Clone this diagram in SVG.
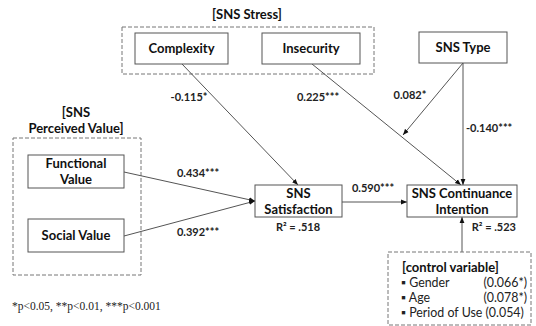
<svg xmlns="http://www.w3.org/2000/svg" width="536" height="326" viewBox="0 0 536 326">
<style>
.node{fill:#fff;stroke:#555;stroke-width:1}
.grp{fill:none;stroke:#777;stroke-width:1;stroke-dasharray:4 2}
.t{font-family:Lato,"Noto Sans",sans-serif;font-weight:bold;font-size:13px;fill:#111;text-anchor:middle}
.c{font-family:Lato,"Noto Sans",sans-serif;font-weight:bold;font-size:11px;fill:#222;text-anchor:middle}
.r{font-family:Lato,"Noto Sans",sans-serif;font-size:12.4px;fill:#222}
.fn{font-family:"Liberation Serif",serif;font-size:11.5px;fill:#222}
.ln{stroke:#555;stroke-width:1;fill:none;marker-end:url(#ah)}
</style>
<defs>
<marker id="ah" viewBox="0 0 10 10" refX="10" refY="5" markerWidth="6" markerHeight="6" markerUnits="userSpaceOnUse" orient="auto">
<path d="M0,1 L10,5 L0,9 z" fill="#111"/>
</marker>
</defs>
<rect width="536" height="326" fill="#fff"/>

<g id="sns-stress">
<text class="t" x="247" y="19">[SNS Stress]</text>
<rect class="grp" x="122" y="27" width="252" height="47"/>
</g>
<g id="perceived-value">
<text class="t" x="76" y="117">[SNS</text>
<text class="t" x="76" y="133">Perceived Value]</text>
<rect class="grp" x="13" y="138" width="128" height="137"/>
</g>

<g id="connectors">
<line class="ln" x1="182" y1="64" x2="298" y2="185"/>
<line class="ln" x1="312" y1="64" x2="461" y2="185"/>
<line class="ln" x1="463" y1="63" x2="403" y2="135"/>
<line class="ln" x1="463" y1="63" x2="463" y2="185"/>
<line class="ln" x1="124" y1="172" x2="255" y2="201"/>
<line class="ln" x1="124" y1="236" x2="255" y2="201"/>
<line class="ln" x1="342" y1="202" x2="407" y2="202"/>
<line class="ln" x1="462" y1="252" x2="462" y2="217"/>
<text class="c" x="189" y="101">-0.115*</text>
<text class="c" x="318" y="101">0.225***</text>
<text class="c" x="410" y="99">0.082*</text>
<text class="c" x="466" y="132" style="text-anchor:start">-0.140***</text>
<text class="c" x="198" y="177">0.434***</text>
<text class="c" x="198" y="236">0.392***</text>
<text class="c" x="373" y="192">0.590***</text>
</g>

<g id="complexity">
<rect class="node" x="135" y="33" width="93" height="31"/>
<text class="t" x="181.5" y="53">Complexity</text>
</g>
<g id="insecurity">
<rect class="node" x="262" y="33" width="98" height="31"/>
<text class="t" x="311" y="53">Insecurity</text>
</g>
<g id="sns-type">
<rect class="node" x="419" y="32" width="88" height="31"/>
<text class="t" x="463" y="52">SNS Type</text>
</g>
<g id="functional-value">
<rect class="node" x="28" y="155" width="96" height="33"/>
<text class="t" x="76" y="168">Functional</text>
<text class="t" x="76" y="184">Value</text>
</g>
<g id="social-value">
<rect class="node" x="28" y="219" width="96" height="33"/>
<text class="t" x="76" y="240">Social Value</text>
</g>
<g id="sns-satisfaction">
<rect class="node" x="255" y="185" width="87" height="32"/>
<text class="t" x="298.5" y="198">SNS</text>
<text class="t" x="298.5" y="214">Satisfaction</text>
<text class="c" x="298" y="231">R² = .518</text>
</g>
<g id="sns-continuance">
<rect class="node" x="407" y="185" width="110" height="32"/>
<text class="t" x="462" y="198">SNS Continuance</text>
<text class="t" x="462" y="214">Intention</text>
<text class="c" x="516" y="231" style="text-anchor:end">R² = .523</text>
</g>
<g id="control-variable">
<rect class="grp" x="388" y="252" width="143" height="73"/>
<text class="t" x="402" y="272" style="text-anchor:start">[control variable]</text>
<text class="r" x="401" y="287">▪ Gender</text>
<text class="r" x="527" y="287" text-anchor="end">(0.066*)</text>
<text class="r" x="401" y="302">▪ Age</text>
<text class="r" x="527" y="302" text-anchor="end">(0.078*)</text>
<text class="r" x="401" y="317">▪ Period of Use (0.054)</text>
</g>

<text class="fn" x="12" y="310">*p&lt;0.05, **p&lt;0.01, ***p&lt;0.001</text>
</svg>
